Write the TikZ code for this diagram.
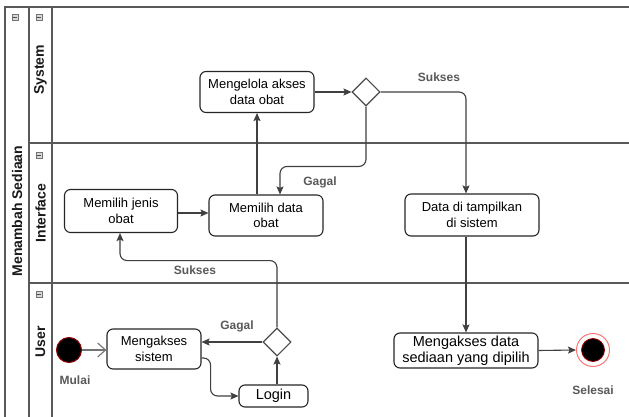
\documentclass[tikz,border=0pt]{standalone}
\usepackage{fontspec}
\setmainfont{Liberation Sans}
\usetikzlibrary{arrows.meta,shapes.geometric}
\tikzset{
  laneline/.style={draw=black!65, line width=1.4pt},
  act/.style={draw=black!85, line width=1.1pt, rounded corners=6pt, fill=white,
    align=center, inner sep=0pt, font=\fontsize{13}{15.5}\selectfont},
  bigact/.style={act, font=\fontsize{14.5}{16.5}\selectfont},
  dec/.style={draw=black!70, line width=1.1pt, diamond, shape aspect=1,
    minimum width=28pt, minimum height=28pt, inner sep=0pt, fill=white},
  flow/.style={draw=black!75, line width=1.1pt, rounded corners=7pt,
    -{Stealth[length=8pt,width=7pt,inset=1.5pt]}},
  openflow/.style={draw=black!55, line width=1.1pt,
    -{Straight Barb[length=8pt,width=14pt]}},
  lbl/.style={font=\bfseries\fontsize{12}{14}\selectfont, text=black!65},
  lanetitle/.style={font=\bfseries\fontsize{14}{16}\selectfont, rotate=90, text=black!90},
  icon/.style={draw=black!55, fill=black!15, minimum size=6pt, inner sep=0pt,
    line width=0.6pt,
    path picture={\draw[black!70,line width=0.7pt]
      ([xshift=1.3pt]path picture bounding box.west) --
      ([xshift=-1.3pt]path picture bounding box.east);}}
}
\begin{document}
\begin{tikzpicture}[x=1pt,y=-1pt]
\useasboundingbox (0,0) rectangle (629,417);
\fill[white] (0,0) rectangle (629,417);

% swimlanes
\draw[laneline] (629,7) -- (5,7) -- (5,417);
\draw[laneline] (29,7) -- (29,417);
\draw[laneline] (52,7) -- (52,417);
\draw[laneline] (29,143) -- (629,143);
\draw[laneline] (29,283) -- (629,283);

\node[icon] (i0) at (15,17) {};
\node[icon] (i1) at (39,17) {};
\node[icon] (i2) at (39,155) {};
\node[icon] (i3) at (39,294) {};

\node[lanetitle] (ttl) at (17,211) {Menambah Sediaan};
\node[lanetitle] (tsys) at (40.5,70) {System};
\node[lanetitle] (tint) at (40.5,213) {Interface};
\node[lanetitle] (tusr) at (40.5,342) {User};

% activities
\node[act, minimum width=114pt, minimum height=41pt] (kelola) at (257,92) {Mengelola akses\\data obat};
\node[dec] (dec1) at (366,92) {};
\node[act, minimum width=113pt, minimum height=43pt] (jenis) at (121,211) {Memilih jenis\\obat};
\node[act, minimum width=114pt, minimum height=41pt] (datao) at (266,215.5) {Memilih data\\obat};
\node[act, minimum width=134pt, minimum height=42pt] (tampil) at (472,215) {Data di tampilkan\\di sistem};
\node[bigact, minimum width=144pt, minimum height=35pt] (sediaan) at (466,350.5) {Mengakses data\\sediaan yang dipilih};
\node[act, minimum width=94pt, minimum height=40pt] (mas) at (154,349) {Mengakses\\sistem};
\node[dec] (dec2) at (277,342) {};
\node[bigact, minimum width=69pt, minimum height=22pt] (login) at (273.5,396) {Login};

% start / end
\node[circle, fill=black, draw=red!55!black, line width=1pt, minimum size=25pt, inner sep=0pt] (start) at (69,350) {};
\node[circle, draw=red!55, line width=1pt, fill=white, minimum size=33pt, inner sep=0pt] (end) at (593,350) {};
\node[circle, fill=black, draw=red!60!black, line width=0.8pt, minimum size=23pt, inner sep=0pt] (endin) at (end) {};
\node[lbl] (lmulai) at (75,380) {Mulai};
\node[lbl] (lselesai) at (593,390) {Selesai};

% flows
\draw[openflow] (start.east) -- (mas.west |- start.east);
\draw[flow] ([yshift=-9pt]mas.east) -- ++(9,0) |- (login.west);
\draw[flow] (dec2 |- login.north) -- (dec2.south);
\draw[flow] (dec2.west) -- (dec2.west -| mas.east);
\draw[flow] (dec2.north) |- ([yshift=-27.5pt,xshift=-1pt]jenis.south) -- ([xshift=-1pt]jenis.south);
\draw[flow] ([yshift=-2pt]jenis.east) -- ([yshift=-2pt]jenis.east -| datao.west);
\draw[flow] (kelola.south |- datao.north) -- (kelola.south);
\draw[flow] (kelola.east) -- (dec1.west);
\draw[flow] (dec1.south) |- ([xshift=14pt,yshift=28pt]datao.north) -- ([xshift=14pt]datao.north);
\draw[flow] (dec1.east) -| ([xshift=-6pt]tampil.north);
\draw[flow] (sediaan |- tampil.south) -- (sediaan.north);
\draw[flow] (sediaan.east) -- (end.west);

% labels
\node[lbl] (lsuk1) at (439,77) {Sukses};
\node[lbl] (lgag1) at (320,182) {Gagal};
\node[lbl] (lsuk2) at (195,270) {Sukses};
\node[lbl] (lgag2) at (237,326) {Gagal};
\end{tikzpicture}
\end{document}
